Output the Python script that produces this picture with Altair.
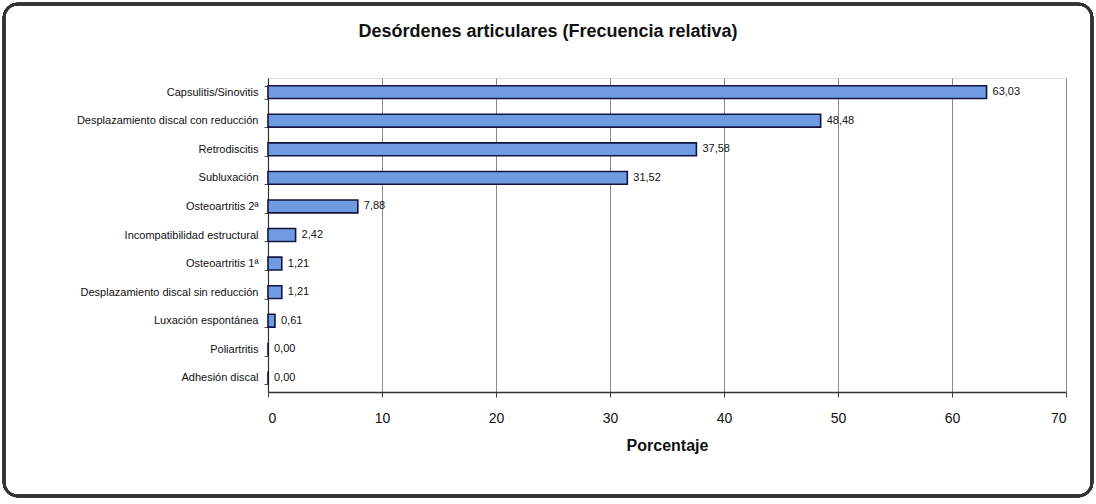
import altair as alt
import pandas as pd

# Articular disorders and their relative frequency (%)
categories = [
    "Capsulitis/Sinovitis",
    "Desplazamiento discal con reducción",
    "Retrodiscitis",
    "Subluxación",
    "Osteoartritis 2ª",
    "Incompatibilidad estructural",
    "Osteoartritis 1ª",
    "Desplazamiento discal sin reducción",
    "Luxación espontánea",
    "Poliartritis",
    "Adhesión discal",
]
percentages = [63.03, 48.48, 37.58, 31.52, 7.88, 2.42, 1.21, 1.21, 0.61, 0.00, 0.00]
x_ticks = [0, 10, 20, 30, 40, 50, 60, 70]
chart_title = "Desórdenes articulares (Frecuencia relativa)"

df = pd.DataFrame({"trastorno": categories, "porcentaje": percentages})

FONT = "Liberation Sans"

y_enc = alt.Y(
    "trastorno:N",
    sort=categories,
    title=None,
    scale=alt.Scale(paddingInner=0.55, paddingOuter=0.27),
    axis=alt.Axis(
        labelFontSize=11,
        labelColor="#111111",
        labelFont=FONT,
        labelPadding=6,
        labelLimit=400,
        tickSize=4,
        tickColor="#555555",
        domainColor="#333333",
        domainWidth=1.2,
        grid=False,
        tickBand="extent",
    ),
)

x_enc = alt.X(
    "porcentaje:Q",
    title="Porcentaje",
    scale=alt.Scale(domain=[0, 70], nice=False),
    axis=alt.Axis(
        values=x_ticks,
        format="d",
        labelFontSize=14,
        labelFont=FONT,
        labelColor="#111111",
        labelPadding=14,
        titleFontSize=16,
        titleFont=FONT,
        titleFontWeight="bold",
        titleColor="#111111",
        titlePadding=12,
        tickSize=5,
        tickColor="#444444",
        domainColor="#333333",
        domainWidth=1.5,
        grid=True,
        gridColor="#8a8a8a",
        gridWidth=1,
    ),
)

bars = alt.Chart(df).mark_bar(
    color="#6f9be3",
    stroke="#141440",
    strokeWidth=1.6,
).encode(x=x_enc, y=y_enc)

labels = alt.Chart(df).transform_calculate(
    etiqueta="replace(format(datum.porcentaje, '.2f'), '.', ',')"
).mark_text(
    align="left",
    baseline="middle",
    dx=6,
    fontSize=11,
    font=FONT,
    color="#111111",
).encode(
    x=alt.X("porcentaje:Q"),
    y=alt.Y("trastorno:N", sort=categories),
    text="etiqueta:N",
)

# Rounded outer frame around the whole figure
frame = alt.Chart(df).mark_rect(
    filled=False,
    stroke="#333333",
    strokeWidth=2.5,
    cornerRadius=14,
    clip=False,
).encode(
    x=alt.value(-264),
    x2=alt.value(824),
    y=alt.value(-74),
    y2=alt.value(418),
)

# Figure heading, centred over the whole framed figure
heading = alt.Chart(pd.DataFrame({"t": [chart_title]})).mark_text(
    font=FONT,
    fontSize=18,
    fontWeight="bold",
    color="#111111",
    align="center",
    baseline="middle",
    clip=False,
).encode(
    x=alt.value(280),
    y=alt.value(-46),
    text="t:N",
)

chart = alt.layer(frame, heading, bars, labels).properties(
    width=798,
    height=314,
    padding={"left": 268, "top": 78, "right": 30, "bottom": 112},
    autosize=alt.AutoSizeParams(type="none"),
).configure_view(
    fill="#ebebef",
    stroke="#777777",
    strokeWidth=1,
).configure(background="white")

chart.save("out.html", embed_options={"renderer": "svg", "actions": False})
